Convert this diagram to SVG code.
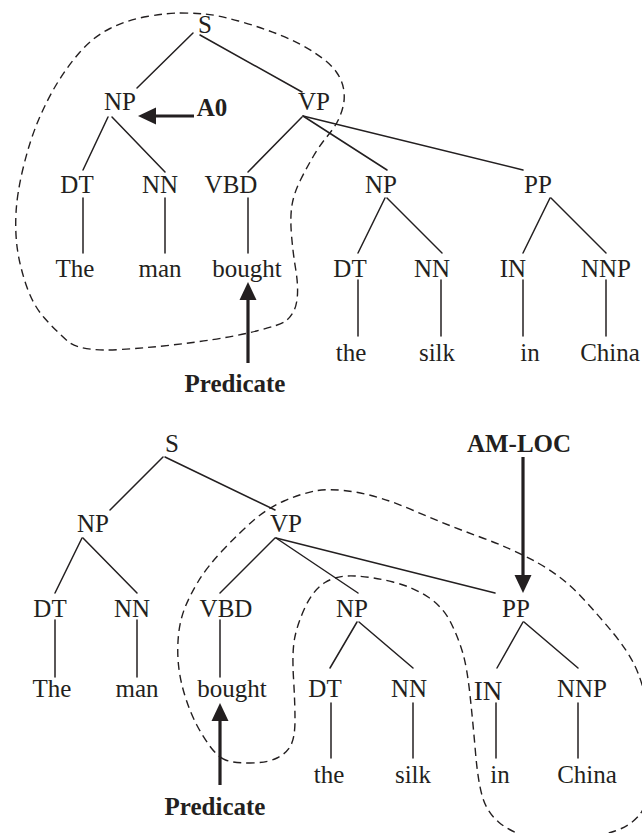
<svg xmlns="http://www.w3.org/2000/svg" width="642" height="833" viewBox="0 0 642 833">
<style>
text{font-family:"Liberation Serif","Times New Roman",serif;font-size:25px;fill:#231f20;text-anchor:middle}
.b{font-weight:bold}
.e line{stroke:#231f20;stroke-width:1.5;stroke-linecap:round}
.d{fill:none;stroke:#231f20;stroke-width:1.4;stroke-dasharray:8 5}
.a{stroke:#231f20;stroke-width:3.2;marker-end:url(#ah)}
</style>
<defs>
<marker id="ah" markerUnits="userSpaceOnUse" markerWidth="19" markerHeight="18" refX="0" refY="8.5" orient="auto" overflow="visible">
<path d="M0,0 L18,8.5 L0,17 Z" fill="#231f20"/>
</marker>
</defs>
<rect width="642" height="833" fill="#fff"/>

<g id="connectors" class="e">
<line x1="193" y1="33" x2="137" y2="88"/>
<line x1="200" y1="35" x2="302" y2="92"/>
<line x1="108" y1="117" x2="83" y2="170"/>
<line x1="112" y1="117" x2="165" y2="172"/>
<line x1="302" y1="117" x2="248" y2="172"/>
<line x1="303" y1="116" x2="387" y2="170"/>
<line x1="303" y1="116" x2="523" y2="170"/>
<line x1="83" y1="198" x2="83" y2="253"/>
<line x1="165" y1="198" x2="165" y2="253"/>
<line x1="248" y1="198" x2="248" y2="253"/>
<line x1="385" y1="198" x2="358" y2="253"/>
<line x1="387" y1="198" x2="442" y2="253"/>
<line x1="550" y1="198" x2="523" y2="253"/>
<line x1="551" y1="198" x2="606" y2="253"/>
<line x1="358" y1="280" x2="358" y2="336"/>
<line x1="441" y1="280" x2="441" y2="336"/>
<line x1="523" y1="280" x2="523" y2="336"/>
<line x1="606" y1="280" x2="606" y2="336"/>

<line x1="163" y1="457" x2="110" y2="510"/>
<line x1="165" y1="457" x2="275" y2="510"/>
<line x1="82" y1="538" x2="55" y2="593"/>
<line x1="83" y1="538" x2="137" y2="593"/>
<line x1="275" y1="538" x2="220" y2="593"/>
<line x1="276" y1="538" x2="358" y2="593"/>
<line x1="276" y1="538" x2="495" y2="593"/>
<line x1="55" y1="620" x2="55" y2="677"/>
<line x1="137" y1="620" x2="137" y2="677"/>
<line x1="220" y1="620" x2="220" y2="677"/>
<line x1="357" y1="622" x2="330" y2="668"/>
<line x1="359" y1="622" x2="413" y2="668"/>
<line x1="523" y1="622" x2="497" y2="668"/>
<line x1="524" y1="622" x2="578" y2="668"/>
<line x1="331" y1="703" x2="331" y2="758"/>
<line x1="413" y1="703" x2="413" y2="758"/>
<line x1="496" y1="703" x2="496" y2="758"/>
<line x1="578" y1="703" x2="578" y2="758"/>
</g>

<g id="regions">
<path class="d" d="M180,13 Q193,13 205,14 Q217,15 238.5,21 Q260,27 280,35 Q300,43 315,53 Q330,63 336,71.5 Q342,80 343.5,88.5 Q345,97 343.5,104.5 Q342,112 338.5,119.5 Q335,127 327.5,136 Q320,145 313.5,156 Q307,167 300.5,180 Q294,193 292,205 Q290,217 291.5,235 Q293,253 295.5,268 Q298,283 297.5,294 Q297,305 293.5,311.5 Q290,318 285,321.5 Q280,325 256.5,331 Q233,337 196.5,342 Q160,347 120,349.5 Q80,352 67.5,341 Q55,330 44,317.5 Q33,305 26.5,286 Q20,267 17.5,250 Q15,233 16,213 Q17,193 23.5,166.5 Q30,140 38.5,120 Q47,100 57,83.5 Q67,67 80,52 Q93,37 110,28.5 Q127,20 147,16.5 Q167,13 180,13 Z"/>
<path class="d" d="M225.5,760 Q218,757 210.5,747 Q203,737 196.5,724.5 Q190,712 185,696 Q180,680 178.5,665 Q177,650 178.5,635 Q180,620 185,607.5 Q190,595 198.5,581 Q207,567 223.5,549.5 Q240,532 254,520 Q268,508 284,501 Q300,494 315,491 Q330,488 355,492 Q380,496 413.5,510.5 Q447,525 480,537 Q513,549 538,563 Q563,577 581.5,597 Q600,617 613.5,633.5 Q627,650 634.5,665 Q642,680 648.5,710 Q655,740 651.5,772.5 Q648,805 639,815.5 Q630,826 615,831 Q600,836 577.5,840.5 Q555,845 532.5,838.5 Q510,832 498.5,822 Q487,812 482.5,797 Q478,782 475.5,752.5 Q473,723 470,695 Q467,667 462.5,652 Q458,637 450.5,622 Q443,607 428,597 Q413,587 393,582 Q373,577 355,576 Q337,575 325,582.5 Q313,590 305,607.5 Q297,625 294.5,639 Q292,653 293.5,678 Q295,703 295,720 Q295,737 291,745 Q287,753 277,758 Q267,763 250,763 Q233,763 225.5,760 Z"/>
</g>

<g id="t1-S"><text x="205" y="33">S</text></g>
<g id="t1-NP"><text x="120" y="110">NP</text></g>
<g id="t1-VP"><text x="314" y="110">VP</text></g>
<g id="t1-DT"><text x="77" y="193">DT</text></g>
<g id="t1-NN"><text x="160" y="193">NN</text></g>
<g id="t1-VBD"><text x="231" y="193">VBD</text></g>
<g id="t1-NP2"><text x="381" y="193">NP</text></g>
<g id="t1-PP"><text x="538" y="193">PP</text></g>
<g id="t1-The"><text x="75" y="277">The</text></g>
<g id="t1-man"><text x="160" y="277">man</text></g>
<g id="t1-bought"><text x="247" y="277">bought</text></g>
<g id="t1-DT2"><text x="350" y="277">DT</text></g>
<g id="t1-NN2"><text x="432" y="277">NN</text></g>
<g id="t1-IN"><text x="513" y="277">IN</text></g>
<g id="t1-NNP"><text x="606" y="277">NNP</text></g>
<g id="t1-the"><text x="351" y="361">the</text></g>
<g id="t1-silk"><text x="437" y="361">silk</text></g>
<g id="t1-in"><text x="530" y="361">in</text></g>
<g id="t1-China"><text x="610" y="361">China</text></g>

<g id="t1-A0"><line class="a" x1="194" y1="116" x2="156" y2="116"/><text class="b" x="212" y="116">A0</text></g>
<g id="t1-Predicate"><line class="a" x1="248" y1="363" x2="248" y2="300"/><text class="b" x="235" y="392">Predicate</text></g>

<g id="t2-S"><text x="172" y="452">S</text></g>
<g id="t2-NP"><text x="93" y="532">NP</text></g>
<g id="t2-VP"><text x="286" y="532">VP</text></g>
<g id="t2-DT"><text x="50" y="617">DT</text></g>
<g id="t2-NN"><text x="132" y="617">NN</text></g>
<g id="t2-VBD"><text x="226" y="617">VBD</text></g>
<g id="t2-NP2"><text x="352" y="617">NP</text></g>
<g id="t2-PP"><text x="516" y="617">PP</text></g>
<g id="t2-The"><text x="52" y="697">The</text></g>
<g id="t2-man"><text x="137" y="697">man</text></g>
<g id="t2-bought"><text x="232" y="697">bought</text></g>
<g id="t2-DT2"><text x="325" y="697">DT</text></g>
<g id="t2-NN2"><text x="409" y="697">NN</text></g>
<g id="t2-IN"><text x="488" y="700" style="font-size:27px">IN</text></g>
<g id="t2-NNP"><text x="582" y="697">NNP</text></g>
<g id="t2-the"><text x="329" y="783">the</text></g>
<g id="t2-silk"><text x="413" y="783">silk</text></g>
<g id="t2-in"><text x="500" y="783">in</text></g>
<g id="t2-China"><text x="587" y="783">China</text></g>

<g id="t2-AMLOC"><line class="a" x1="523" y1="457" x2="523" y2="575"/><text class="b" x="519" y="452">AM-LOC</text></g>
<g id="t2-Predicate"><line class="a" x1="220" y1="785" x2="220" y2="721"/><text class="b" x="215" y="815">Predicate</text></g>
</svg>
